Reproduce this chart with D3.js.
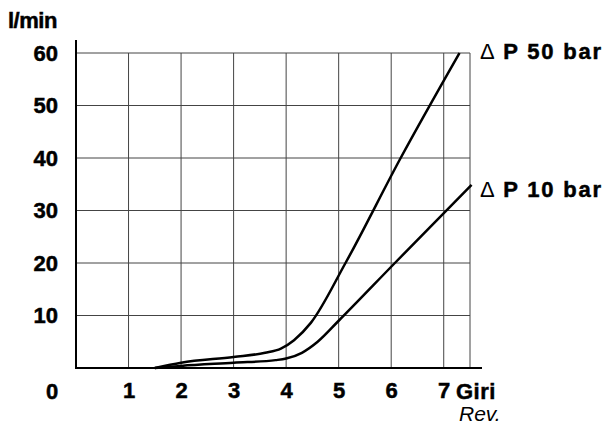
<!DOCTYPE html>
<html>
<head>
<meta charset="utf-8">
<script src="https://cdn.jsdelivr.net/npm/d3@7"></script>
<style>
  body { margin: 0; background: #fff; }
  svg { display: block; font-family: "Liberation Sans", Arial, sans-serif; }
</style>
</head>
<body>
<svg id="chart" width="608" height="425"></svg>
<script>
// giri (rev, x1000) vs portata l/min
const rev50 = [1.5, 2, 3, 3.6, 3.9, 4.15, 4.47, 5.13, 6.18, 7.3];
const flow50 = [0, 1.0, 2.1, 2.9, 3.7, 5.3, 8.6, 20, 40, 60];
const rev10 = [1.5, 2, 3, 3.8, 4.0, 4.3, 4.6, 5.0, 6.07, 7.53];
const flow10 = [0, 0.4, 1.0, 1.5, 1.8, 2.9, 5.0, 9.0, 20, 34.9];

const xTicks = [1, 2, 3, 4, 5, 6, 7];
const yTicks = [10, 20, 30, 40, 50, 60];
const seriesLabels = ["50 bar", "10 bar"];

const svg = d3.select("#chart");

const x = d3.scaleLinear().domain([0, 7.5]).range([76, 470]);
const y = d3.scaleLinear().domain([0, 60]).range([368, 53]);

// griglia
svg.append("g")
    .selectAll("line")
    .data(xTicks.concat([7.5]))
    .enter()
    .append("line")
    .attr("x1", d => x(d)).attr("x2", d => x(d))
    .attr("y1", y(0)).attr("y2", y(60))
    .attr("stroke", "#444")
    .attr("stroke-width", 1);

svg.append("g")
    .selectAll("line")
    .data(yTicks)
    .enter()
    .append("line")
    .attr("x1", x(0)).attr("x2", x(7.5))
    .attr("y1", d => y(d)).attr("y2", d => y(d))
    .attr("stroke", "#444")
    .attr("stroke-width", 1);

// assi
const yAxis = svg.append("g")
    .attr("transform", `translate(${x(0)},0)`)
    .call(d3.axisLeft(y).tickValues(yTicks).tickSize(0).tickPadding(18));
yAxis.select(".domain").remove();

const xAxis = svg.append("g")
    .attr("transform", `translate(0,${y(0)})`)
    .call(d3.axisBottom(x).tickValues(xTicks).tickSize(0).tickPadding(14));
xAxis.select(".domain").remove();

svg.selectAll(".tick text")
    .attr("font-family", "Liberation Sans, Arial, sans-serif")
    .attr("font-size", 22)
    .attr("font-weight", "bold")
    .attr("fill", "#000")
    .attr("stroke", "#000")
    .attr("stroke-width", 0.5);

svg.append("line")
    .attr("x1", x(0)).attr("x2", x(0))
    .attr("y1", 40).attr("y2", y(0) + 1)
    .attr("stroke", "#000").attr("stroke-width", 2);

svg.append("line")
    .attr("x1", x(0) - 1).attr("x2", 482)
    .attr("y1", y(0)).attr("y2", y(0))
    .attr("stroke", "#000").attr("stroke-width", 2);

// curve
const line = d3.line()
    .x(d => x(d[0]))
    .y(d => y(d[1]))
    .curve(d3.curveMonotoneX);

[[rev50, flow50], [rev10, flow10]].forEach(([rx, fy]) => {
    svg.append("path")
        .datum(rx.map((r, i) => [r, fy[i]]))
        .attr("d", line)
        .attr("fill", "none")
        .attr("stroke", "#000")
        .attr("stroke-width", 2.5)
        .attr("stroke-linejoin", "round");
});

// testi
svg.append("text")
    .attr("x", 8).attr("y", 28)
    .attr("font-size", 22).attr("font-weight", "bold")
    .attr("letter-spacing", -0.5)
    .attr("stroke", "#000").attr("stroke-width", 0.5)
    .text("l/min");

svg.append("text")
    .attr("x", 52).attr("y", 399)
    .attr("text-anchor", "middle")
    .attr("font-size", 22).attr("font-weight", "bold")
    .attr("stroke", "#000").attr("stroke-width", 0.5)
    .text("0");

svg.append("text")
    .attr("x", 456).attr("y", 399)
    .attr("font-size", 22).attr("font-weight", "bold")
    .attr("letter-spacing", 0.5)
    .attr("stroke", "#000").attr("stroke-width", 0.5)
    .text("Giri");

svg.append("text")
    .attr("x", 459).attr("y", 421)
    .attr("font-size", 21).attr("font-style", "italic")
    .text("Rev.");

const labelY = [59, 197];
seriesLabels.forEach((lab, i) => {
    const t = svg.append("text")
        .attr("x", 480).attr("y", labelY[i])
        .attr("font-size", 22)
        .attr("letter-spacing", 1.8);
    t.append("tspan").attr("font-weight", "normal").text("\u0394 ");
    t.append("tspan").attr("font-weight", "bold")
        .attr("stroke", "#000").attr("stroke-width", 0.5)
        .text("P " + lab);
});
</script>
</body>
</html>
